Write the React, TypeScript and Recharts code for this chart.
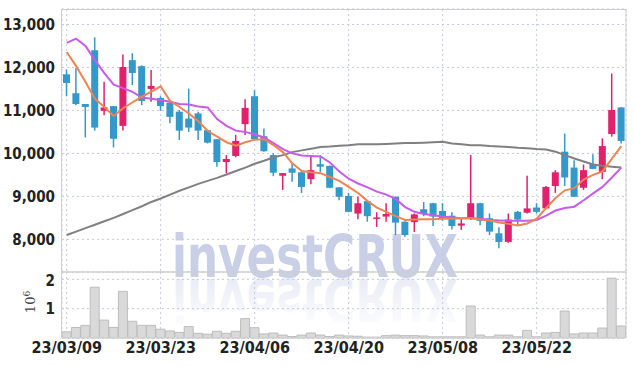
import { Bar, CartesianGrid, ComposedChart, Line, XAxis, YAxis } from "recharts";

const dates = [
  "23/03/09", "23/03/10", "23/03/13", "23/03/14", "23/03/15", "23/03/16", "23/03/17", "23/03/20", "23/03/21", "23/03/22",
  "23/03/23", "23/03/24", "23/03/27", "23/03/28", "23/03/29", "23/03/30", "23/03/31", "23/04/03", "23/04/04", "23/04/05",
  "23/04/06", "23/04/07", "23/04/10", "23/04/11", "23/04/12", "23/04/13", "23/04/14", "23/04/17", "23/04/18", "23/04/19",
  "23/04/20", "23/04/21", "23/04/24", "23/04/25", "23/04/26", "23/04/27", "23/04/28", "23/05/02", "23/05/03", "23/05/04",
  "23/05/08", "23/05/09", "23/05/10", "23/05/11", "23/05/12", "23/05/15", "23/05/16", "23/05/17", "23/05/18", "23/05/19",
  "23/05/22", "23/05/23", "23/05/24", "23/05/25", "23/05/26", "23/05/30", "23/05/31", "23/06/01", "23/06/02", "23/06/05",
];

const opens = [
  11840, 11400, 11150, 12400, 10990, 11100, 10640, 12170, 12030, 11500,
  11290, 11180, 10970, 10810, 10930, 10540, 10330, 9800, 9940, 10680,
  11330, 10400, 9960, 9480, 9650, 9560, 9400, 9750, 9710, 9210,
  9010, 8600, 8890, 8480, 8530, 8990, 8410, 8400, 8700, 8840,
  8660, 8550, 8320, 8490, 8840, 8490, 8140, 7940, 8640, 8620,
  8740, 8720, 9240, 10040, 9670, 9200, 9750, 9570, 10450, 11070,
];
const highs = [
  11950, 11980, 11150, 12700, 11670, 11100, 12300, 12330, 12050, 11940,
  11330, 11200, 11010, 11510, 10970, 10550, 10330, 9960, 10430, 11260,
  11470, 10580, 10000, 9540, 9770, 9580, 9940, 9960, 9720, 9220,
  9080, 8990, 8910, 8630, 8840, 9000, 8420, 8600, 8870, 8850,
  8840, 8630, 8490, 9960, 8850, 8600, 8280, 8600, 8660, 9480,
  8840, 9240, 9610, 10460, 9840, 9740, 9980, 10350, 11860, 11080,
];
const lows = [
  11330, 11120, 10370, 10530, 10890, 10140, 10530, 11590, 11120, 11200,
  10990, 10700, 10310, 10500, 10310, 10230, 9690, 9540, 9910, 10430,
  10310, 10040, 9470, 9150, 9340, 9080, 9280, 9570, 9190, 8910,
  8630, 8470, 8410, 8290, 8410, 8100, 8060, 8170, 8540, 8310,
  8430, 8230, 8220, 8450, 8330, 8100, 7790, 7920, 8310, 8600,
  8600, 8700, 9080, 9240, 8990, 9150, 9630, 9400, 10390, 10230,
];
const closes = [
  11640, 11150, 11080, 10600, 11070, 10340, 12010, 11870, 11220, 11570,
  11100, 10850, 10530, 10600, 10530, 10250, 9800, 9870, 10290, 11060,
  10330, 10050, 9550, 9540, 9550, 9220, 9610, 9690, 9200, 8990,
  8640, 8840, 8540, 8510, 8590, 8390, 8100, 8580, 8590, 8530,
  8490, 8310, 8370, 8840, 8430, 8180, 7940, 8460, 8460, 8720,
  8640, 9220, 9560, 9440, 8990, 9610, 9640, 10170, 11010, 10290,
];

// moving averages (5 / 20 / long)
const ma5 = [
  12360, 12030, 11660, 11270, 11080, 10870, 11050, 11190, 11320, 11440,
  11560, 11220, 11080, 10930, 10750, 10520, 10390, 10260, 10180, 10260,
  10320, 10330, 10190, 10030, 9770, 9590, 9560, 9540, 9450, 9360,
  9220, 9080, 8890, 8740, 8640, 8540, 8450, 8460, 8470, 8470,
  8480, 8480, 8490, 8490, 8460, 8440, 8390, 8360, 8320, 8370,
  8480, 8730, 8960, 9140, 9190, 9390, 9500, 9580, 9880, 10170,
];
const ma20 = [
  12570, 12670, 12500, 12170, 11870, 11600, 11520, 11430, 11300, 11270,
  11240, 11200, 11150, 11140, 11090, 11070, 10800, 10640, 10530, 10500,
  10440, 10370, 10240, 10100, 10000, 9950, 9940, 9930, 9790, 9580,
  9410, 9300, 9210, 9110, 9040, 8940, 8750, 8640, 8590, 8560,
  8530, 8510, 8490, 8490, 8480, 8450, 8440, 8430, 8430, 8430,
  8450, 8550, 8670, 8730, 8760, 8910, 9070, 9220, 9440, 9670,
];
const maLong = [
  8100, 8180, 8260, 8340, 8420, 8500, 8590, 8680, 8770, 8870,
  8950, 9040, 9130, 9210, 9290, 9360, 9430, 9510, 9590, 9670,
  9760, 9830, 9910, 9960, 10030, 10070, 10110, 10150, 10160, 10180,
  10190, 10210, 10210, 10210, 10220, 10230, 10240, 10240, 10250, 10260,
  10270, 10230, 10210, 10190, 10190, 10170, 10160, 10150, 10130, 10120,
  10100, 10090, 10040, 9960, 9880, 9810, 9740, 9710, 9690, 9670,
];

// volume in millions of shares
const volumes = [
  0.21, 0.36, 0.43, 1.73, 0.61, 0.36, 1.59, 0.57, 0.43, 0.43,
  0.3, 0.24, 0.19, 0.39, 0.16, 0.13, 0.23, 0.16, 0.23, 0.66,
  0.35, 0.14, 0.17, 0.1, 0.05, 0.1, 0.17, 0.1, 0.05, 0.1,
  0.07, 0.06, 0.03, 0.03, 0.08, 0.1, 0.08, 0.08, 0.07, 0.04,
  0.04, 0.04, 0.04, 1.09, 0.1, 0.04, 0.1, 0.1, 0.04, 0.26,
  0.04, 0.17, 0.19, 0.92, 0.14, 0.17, 0.17, 0.34, 2.04, 0.41,
];

const tickDates = ["23/03/09", "23/03/23", "23/04/06", "23/04/20", "23/05/08", "23/05/22"];
const priceTicks = [8000, 9000, 10000, 11000, 12000, 13000];
const volumeTicks = [1, 2];

const rows = dates.map((date, i) => ({
  date,
  open: opens[i],
  high: highs[i],
  low: lows[i],
  close: closes[i],
  range: [lows[i], highs[i]],
  ma5: ma5[i],
  ma20: ma20[i],
  maLong: maLong[i],
  vol: volumes[i],
}));

const UP = "#E2206C";
const DOWN = "#3398CA";
const gridStroke = "#C3C8DE";
const frameStroke = "#CFCFCF";
const markColor = "#C8CFE6";
const labelFont = "'Liberation Sans Narrow', 'DejaVu Sans Condensed', sans-serif";
const tickStyle = { fontSize: 15, fill: "#222", fontFamily: labelFont, fontWeight: 700 };

const Candle = (props: any) => {
  const { x, y, width, height, payload } = props;
  if (!payload) return null;
  const { open, close, high, low } = payload;
  const top = Math.min(y, y + height);
  const h = Math.abs(height);
  const k = h / (high - low);
  const yo = top + (high - open) * k;
  const yc = top + (high - close) * k;
  const color = close >= open ? UP : DOWN;
  const cx = x + width / 2;
  const bw = 7;
  return (
    <g>
      <line x1={cx} x2={cx} y1={top} y2={top + h} stroke={color} strokeWidth={1.5} />
      <rect
        x={cx - bw / 2}
        y={Math.min(yo, yc)}
        width={bw}
        height={Math.max(Math.abs(yc - yo), 1.5)}
        fill={color}
      />
    </g>
  );
};

const App = () => {
  return (
    <div style={{ position: "absolute", left: 0, top: 0, width: 634, height: 366, background: "#fff" }}>
      {/* watermark + volume unit label, behind the charts */}
      <svg width={634} height={366} style={{ position: "absolute", left: 0, top: 0 }}>
        <defs>
          <linearGradient id="fade" x1="0" y1="0" x2="0" y2="1">
            <stop offset="0%" stopColor={markColor} stopOpacity={0} />
            <stop offset="100%" stopColor={markColor} stopOpacity={0.5} />
          </linearGradient>
        </defs>
        <text
          x={172}
          y={277}
          fontSize={58}
          fontWeight={700}
          fontFamily="'DejaVu Sans', sans-serif"
          fill={markColor}
          textLength={286}
          lengthAdjust="spacingAndGlyphs"
        >
          investCRUX
        </text>
        <text
          x={172}
          y={277}
          transform="translate(0,556) scale(1,-1)"
          fontSize={58}
          fontWeight={700}
          fontFamily="'DejaVu Sans', sans-serif"
          fill="url(#fade)"
          textLength={286}
          lengthAdjust="spacingAndGlyphs"
        >
          investCRUX
        </text>
        <text
          transform="translate(35,302) rotate(-90)"
          textAnchor="middle"
          fontSize={13}
          fontFamily="'DejaVu Serif', serif"
          fill="#444"
        >
          10<tspan dy={-5} fontSize={9}>6</tspan>
        </text>
      </svg>

      <div style={{ position: "absolute", left: 0, top: 0 }}>
        <ComposedChart width={634} height={272} data={rows} margin={{ top: 9, right: 8, bottom: 0, left: 0 }}>
          <CartesianGrid stroke={gridStroke} strokeDasharray="2 3" />
          <XAxis dataKey="date" hide ticks={tickDates} interval={0} />
          <YAxis
            domain={[7240, 13360]}
            ticks={priceTicks}
            width={62}
            axisLine={false}
            tickLine={false}
            tickSize={0}
            tickMargin={7}
            tick={tickStyle}
            tickFormatter={(v: number) => v.toLocaleString("en-US")}
          />
          <Bar dataKey="range" shape={<Candle />} barSize={7} isAnimationActive={false} />
          <Line type="linear" dataKey="maLong" stroke="#808080" strokeWidth={2} dot={false} isAnimationActive={false} />
          <Line type="linear" dataKey="ma20" stroke="#C95AEC" strokeWidth={2} dot={false} isAnimationActive={false} />
          <Line type="linear" dataKey="ma5" stroke="#EE8452" strokeWidth={2} dot={false} isAnimationActive={false} />
        </ComposedChart>
      </div>

      <div style={{ position: "absolute", left: 0, top: 272 }}>
        <ComposedChart width={634} height={94} data={rows} barCategoryGap={0} margin={{ top: 0, right: 8, bottom: 0, left: 0 }}>
          <CartesianGrid stroke={gridStroke} strokeDasharray="2 3" />
          <XAxis
            dataKey="date"
            ticks={tickDates}
            interval={0}
            height={28}
            axisLine={false}
            tickLine={false}
            tickSize={0}
            tickMargin={4}
            tick={{ ...tickStyle, fontSize: 16 }}
          />
          <YAxis
            domain={[0, 2.25]}
            ticks={volumeTicks}
            width={62}
            axisLine={false}
            tickLine={false}
            tickSize={0}
            tickMargin={7}
            tick={tickStyle}
          />
          <Bar dataKey="vol" fill="#D9D9D9" stroke="#BDBDBD" strokeWidth={1} isAnimationActive={false} />
        </ComposedChart>
      </div>

      {/* panel frame */}
      <svg width={634} height={366} style={{ position: "absolute", left: 0, top: 0, pointerEvents: "none" }}>
        <rect x={61.5} y={9.5} width={564.5} height={328} fill="none" stroke={frameStroke} strokeWidth={1} />
        <line x1={61.5} x2={626} y1={272} y2={272} stroke={frameStroke} strokeWidth={1.5} />
      </svg>
    </div>
  );
};

export default App;
